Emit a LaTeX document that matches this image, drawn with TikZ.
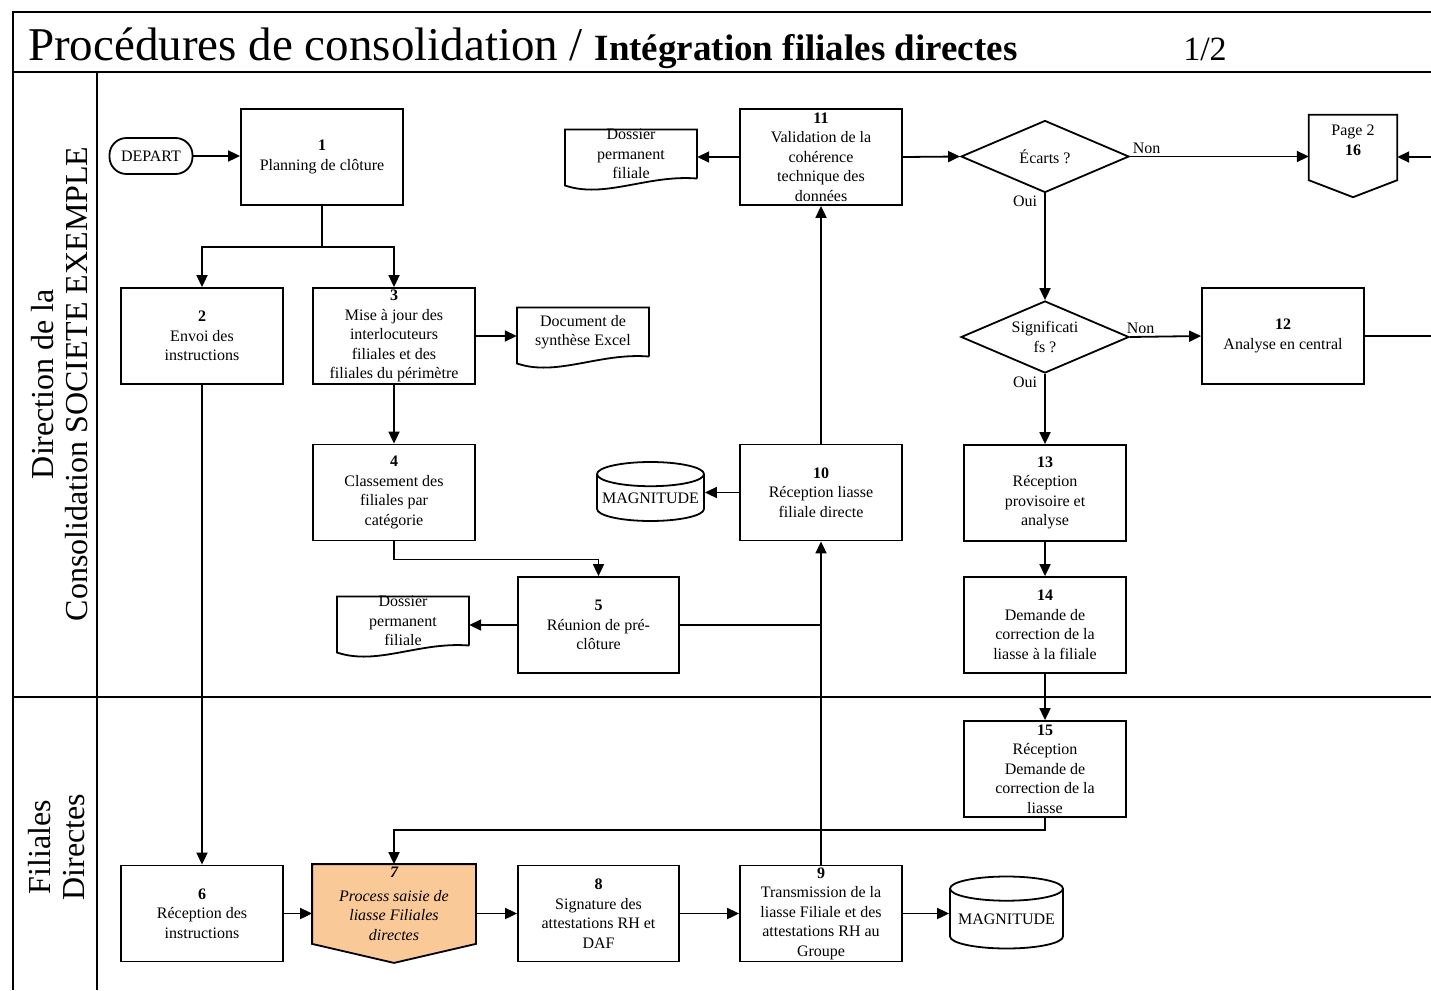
\documentclass[tikz,border=0pt]{standalone}
\usepackage{fontspec}
\setmainfont{Liberation Serif}
\usetikzlibrary{shapes.geometric, arrows.meta, positioning, backgrounds}
\definecolor{saisie}{RGB}{250,201,152}
\newcommand{\boxfont}{\fontsize{16}{19.5}\selectfont}
\newcommand{\lanefont}{\fontsize{32}{34}\selectfont}
% contour d'un document (bas ondule)
\newcommand{\docoutline}[1]{%
	\draw[trait] ([xshift=66pt,yshift=-24.5pt]#1.center) -- ([xshift=66pt,yshift=24.5pt]#1.center)
		-- ([xshift=-66pt,yshift=24.5pt]#1.center) -- ([xshift=-66pt,yshift=-31.5pt]#1.center)
		.. controls ([xshift=-26pt,yshift=-45pt]#1.center) and ([xshift=16pt,yshift=-20.5pt]#1.center)
		.. ([xshift=66pt,yshift=-24.5pt]#1.center);}
% contour d'un renvoi (pointe vers le bas)
\newcommand{\pentoutline}[4]{%
	\filldraw[trait, fill=#4] ([yshift=-#2]#1.south east) -- (#1.north east) -- (#1.north west)
		-- ([yshift=-#2]#1.south west) -- ([yshift=-#3]#1.south) -- cycle;}
\tikzset{
	x=1pt, y=-1pt, % un point par pixel, y vers le bas
	>={Triangle[length=12pt, width=11pt]}, % pointes pleines
	trait/.style={line width=1.8pt}, % epaisseur des formes
	flux/.style={trait, ->}, % connecteurs fleches
	cadre/.style={line width=1.6pt}, % cadre et couloirs
	tache/.style={trait, draw, minimum width=162, minimum height=96, align=center, inner sep=0pt, font=\boxfont}, % etapes
	saisie7/.style={tache, draw=none, minimum height=78, font=\boxfont\itshape}, % etape orange
	doc/.style={minimum width=132, minimum height=49, align=center, inner sep=0pt, font=\boxfont}, % documents
	base/.style={trait, draw, cylinder, shape border rotate=90, aspect=0.25, inner sep=0pt, font=\boxfont}, % bases
	test/.style={trait, draw, diamond, aspect=2.33, minimum width=168, minimum height=72, inner sep=0pt, align=center, font=\boxfont}, % decisions
	debut/.style={trait, draw, rounded corners=17pt, minimum width=83, minimum height=36, inner sep=0pt, font=\boxfont}, % depart
	renvoi/.style={minimum width=88, minimum height=51, align=center, inner sep=0pt, font=\boxfont}, % renvoi de page
	etiq/.style={font=\boxfont, inner sep=2pt} % Oui / Non
}

\begin{document}
\begin{tikzpicture}
	\useasboundingbox (0,0) rectangle (1431,990);
	% cadre et couloirs
	\draw[cadre] (13,990) -- (13,12) -- (1431,12);
	\draw[cadre] (13,72) -- (1431,72);
	\draw[cadre] (97,72) -- (97,990);
	\draw[cadre] (13,697) -- (1431,697);
	\node[anchor=base west, inner sep=0pt, font=\fontsize{47}{50}\selectfont] (title) at (28,60)
		{Procédures de consolidation / {\bfseries\fontsize{37}{40}\selectfont Intégration filiales directes}};
	\node[anchor=base, inner sep=0pt, font=\fontsize{34}{40}\selectfont] (pagenum) at (1205,60) {1/2};
	\node[rotate=90, align=center, font=\lanefont] (lane1) at (60,384) {Direction de la\\Consolidation SOCIETE EXEMPLE};
	\node[rotate=90, align=center, font=\lanefont] (lane2) at (57,847) {Filiales\\Directes};

	% etapes
	\node[debut] (start) at (151,156) {DEPART};
	\node[tache] (b1) at (322,157) {\textbf{1}\\Planning de clôture};
	\node[tache] (b2) at (202,336) {\textbf{2}\\Envoi des\\instructions};
	\node[tache] (b3) at (394,336) {\textbf{3}\\Mise à jour des\\interlocuteurs\\filiales et des\\filiales du périmètre};
	\node[doc] (docxl) at (583,332) {Document de\\synthèse Excel};
	\node[tache] (b4) at (394,492.5) {\textbf{4}\\Classement des\\filiales par\\catégorie};
	\node[tache, minimum width=161] (b5) at (598.5,625) {\textbf{5}\\Réunion de pré-\\clôture};
	\node[doc] (dos2) at (403,621) {Dossier\\permanent\\filiale};
	\node[tache] (b10) at (821,492.5) {\textbf{10}\\Réception liasse\\filiale directe};
	\node[base, minimum width=107, minimum height=59] (mag1) at (650.5,498) {MAGNITUDE};
	\node[tache] (b11) at (821,157) {\textbf{11}\\Validation de la\\cohérence\\technique des\\données};
	\node[doc] (dos1) at (631,154) {Dossier\\permanent\\filiale};
	\node[test] (dEc) at (1045,156.5) {Écarts ?};
	\node[renvoi] (p16) at (1353,140.5) {Page 2\\\textbf{16}};
	\node[test] (dSig) at (1045,337) {Significati\\fs ?};
	\node[tache] (b12) at (1283,336) {\textbf{12}\\Analyse en central};
	\node[tache] (b13) at (1045,493) {\textbf{13}\\Réception\\provisoire et\\analyse};
	\node[tache] (b14) at (1045,625) {\textbf{14}\\Demande de\\correction de la\\liasse à la filiale};
	\node[tache] (b15) at (1045,769) {\textbf{15}\\Réception\\Demande de\\correction de la\\liasse};
	\node[tache] (b6) at (202,913.5) {\textbf{6}\\Réception des\\instructions};
	\node[saisie7] (b7) at (394,904) {\textbf{7}\\[4pt]Process saisie de\\liasse Filiales\\directes};
	\node[tache, minimum width=161] (b8) at (598.5,913.5) {\textbf{8}\\Signature des\\attestations RH et\\DAF};
	\node[tache] (b9) at (821,913.5) {\textbf{9}\\Transmission de la\\liasse Filiale et des\\attestations RH au\\Groupe};
	\node[base, minimum width=113, minimum height=72] (mag2) at (1006.5,919) {MAGNITUDE};
	\coordinate (edge16) at (1431,157);
	\coordinate (edge12) at (1431,336);

	% formes particulieres
	\docoutline{docxl}
	\docoutline{dos1}
	\docoutline{dos2}
	\begin{scope}[on background layer]
		\pentoutline{p16}{14pt}{31pt}{white}
		\pentoutline{b7}{0pt}{19pt}{saisie}
	\end{scope}

	% connecteurs
	\draw[flux] (start) -- (start -| b1.west);
	\draw[flux] (b1.south) -- ++(0,41) -| (b2.north);
	\draw[flux] (b1.south) -- ++(0,41) -| (b3.north);
	\draw[flux] (b3.east) -- (b3.east -| docxl.west);
	\draw[flux] (b3) -- (b4);
	\draw[flux] (b4.south) -- ++(0,18) -| (b5.north);
	\draw[flux] (b5.west) -- (b5.west -| dos2.east);
	\draw[trait] (b5.east) -- (b5.east -| b10.south);
	\draw[flux] (b9.north) -- (b10.south);
	\draw[flux] (b10.west) -- (b10.west -| mag1.east);
	\draw[flux] (b10) -- (b11);
	\draw[flux] (b11.west) -- (b11.west -| dos1.east);
	\draw[flux] (b11.east) -- (dEc.west);
	\draw[flux] (dEc.east) -- (dEc.east -| p16.west) node[etiq, pos=0, above right] {Non};
	\draw[flux] (edge16) -- (edge16 -| p16.east);
	\draw[flux] (dEc.south) -- (dSig.north) node[etiq, pos=0, below left, xshift=-5pt] {Oui};
	\draw[flux] (dSig.east) -- (b12.west) node[etiq, pos=0, above right, xshift=-6pt] {Non};
	\draw[trait] (b12.east) -- (edge12);
	\draw[flux] (dSig.south) -- (b13.north) node[etiq, pos=0, below left, xshift=-5pt] {Oui};
	\draw[flux] (b13) -- (b14);
	\draw[flux] (b14) -- (b15);
	\draw[flux] (b15.south) -- ++(0,12) -| (b7.north);
	\draw[flux] (b2) -- (b6);
	\draw[flux] (b6.east) -- (b6.east -| b7.west);
	\draw[flux] (b8.west -| b7.east) -- (b8.west);
	\draw[flux] (b8) -- (b9);
	\draw[flux] (b9.east) -- (b9.east -| mag2.west);
\end{tikzpicture}
\end{document}
